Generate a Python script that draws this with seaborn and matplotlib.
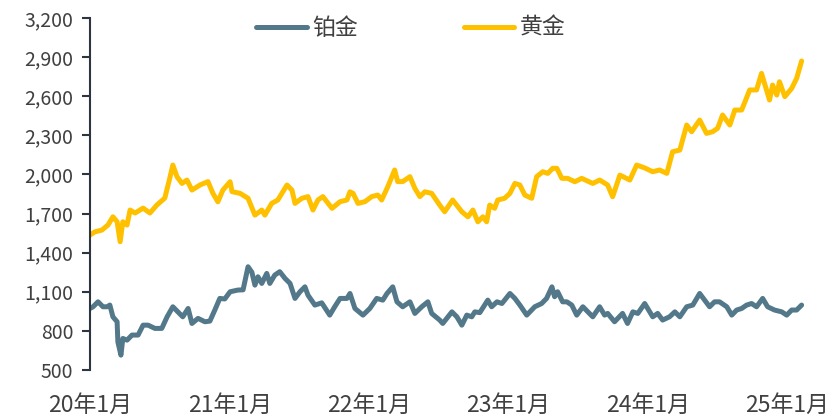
import matplotlib
matplotlib.use("Agg")
import matplotlib.pyplot as plt
import seaborn as sns
import pandas as pd

# 铂金 (platinum) readings, USD/oz
plat_dates = [
    "2020-01-01", "2020-01-09", "2020-01-22", "2020-02-04", "2020-02-15", "2020-02-22",
    "2020-03-01", "2020-03-12", "2020-03-14", "2020-03-22", "2020-03-27", "2020-04-07",
    "2020-04-20", "2020-05-06", "2020-05-19", "2020-06-01", "2020-06-19", "2020-07-07",
    "2020-07-21", "2020-08-05", "2020-08-18", "2020-08-31", "2020-09-14", "2020-09-24",
    "2020-10-10", "2020-10-28", "2020-11-10", "2020-11-23", "2020-12-06", "2020-12-19",
    "2021-01-02", "2021-01-22", "2021-02-05", "2021-02-18", "2021-02-28", "2021-03-08",
    "2021-03-16", "2021-03-26", "2021-04-08", "2021-04-16", "2021-04-29", "2021-05-12",
    "2021-05-26", "2021-06-08", "2021-06-21", "2021-07-04", "2021-07-17", "2021-07-25",
    "2021-08-12", "2021-08-30", "2021-09-20", "2021-10-03", "2021-10-17", "2021-11-04",
    "2021-11-12", "2021-11-25", "2021-12-16", "2022-01-03", "2022-01-21", "2022-02-06",
    "2022-02-17", "2022-03-04", "2022-03-15", "2022-03-30", "2022-04-18", "2022-05-01",
    "2022-05-19", "2022-06-04", "2022-06-14", "2022-07-05", "2022-07-13", "2022-08-06",
    "2022-08-19", "2022-09-01", "2022-09-14", "2022-09-27", "2022-10-05", "2022-10-18",
    "2022-11-08", "2022-11-18", "2022-12-02", "2022-12-15", "2023-01-05", "2023-01-18",
    "2023-01-31", "2023-02-18", "2023-03-11", "2023-03-29", "2023-04-11", "2023-04-25",
    "2023-05-02", "2023-05-10", "2023-05-23", "2023-06-03", "2023-06-16", "2023-06-29",
    "2023-07-15", "2023-07-28", "2023-08-10", "2023-08-28", "2023-09-10", "2023-09-18",
    "2023-10-06", "2023-10-27", "2023-11-09", "2023-11-23", "2023-12-06", "2023-12-24",
    "2024-01-14", "2024-01-27", "2024-02-09", "2024-02-27", "2024-03-12", "2024-03-25",
    "2024-04-12", "2024-04-28", "2024-05-16", "2024-05-29", "2024-06-11", "2024-06-24",
    "2024-07-07", "2024-07-26", "2024-08-08", "2024-08-21", "2024-09-03", "2024-09-16",
    "2024-09-29", "2024-10-12", "2024-10-28", "2024-11-10", "2024-11-28", "2024-12-17",
    "2024-12-30", "2025-01-12", "2025-01-25", "2025-02-07",
]
plat_price = [
    972, 985, 1023, 985, 985, 998,
    908, 870, 716, 614, 742, 729,
    768, 768, 844, 844, 819, 819,
    908, 985, 946, 908, 972, 857,
    896, 870, 875, 960, 1049, 1045,
    1100, 1113, 1115, 1292, 1250, 1151,
    1215, 1164, 1241, 1164, 1228, 1254,
    1202, 1164, 1049, 1100, 1138, 1074,
    998, 1015, 921, 985, 1049, 1049,
    1087, 972, 921, 972, 1049, 1036,
    1087, 1138, 1023, 985, 1023, 934,
    985, 1023, 934, 883, 857, 946,
    908, 844, 921, 908, 946, 940,
    1036, 985, 1023, 1010, 1087, 1049,
    998, 921, 985, 1010, 1049, 1138,
    1062, 1100, 1023, 1023, 998, 921,
    985, 946, 908, 985, 921, 934,
    870, 934, 857, 946, 934, 1010,
    908, 934, 883, 908, 946, 908,
    985, 998, 1087, 1036, 985, 1023,
    1023, 985, 921, 960, 972, 998,
    1010, 985, 1049, 985, 960, 946,
    921, 960, 960, 998,
]

# 黄金 (gold) readings, USD/oz
gold_dates = [
    "2020-01-01", "2020-01-14", "2020-02-01", "2020-02-17", "2020-03-01", "2020-03-12",
    "2020-03-20", "2020-03-27", "2020-04-07", "2020-04-15", "2020-04-28", "2020-05-19",
    "2020-06-06", "2020-06-24", "2020-07-15", "2020-07-28", "2020-08-05", "2020-08-16",
    "2020-08-29", "2020-09-11", "2020-09-24", "2020-10-15", "2020-11-05", "2020-11-18",
    "2020-12-01", "2020-12-14", "2021-01-02", "2021-01-07", "2021-01-28", "2021-02-18",
    "2021-03-08", "2021-03-26", "2021-04-03", "2021-04-21", "2021-05-07", "2021-05-31",
    "2021-06-13", "2021-06-21", "2021-07-09", "2021-07-25", "2021-08-07", "2021-08-20",
    "2021-09-02", "2021-09-26", "2021-10-17", "2021-11-04", "2021-11-12", "2021-11-20",
    "2021-12-03", "2021-12-21", "2022-01-08", "2022-01-24", "2022-02-03", "2022-02-19",
    "2022-03-09", "2022-03-17", "2022-03-30", "2022-04-18", "2022-05-01", "2022-05-14",
    "2022-05-27", "2022-06-14", "2022-07-05", "2022-07-18", "2022-08-08", "2022-09-01",
    "2022-09-17", "2022-09-30", "2022-10-13", "2022-10-26", "2022-11-05", "2022-11-13",
    "2022-11-26", "2022-12-04", "2022-12-22", "2023-01-05", "2023-01-18", "2023-01-31",
    "2023-02-13", "2023-03-03", "2023-03-16", "2023-04-01", "2023-04-14", "2023-04-27",
    "2023-05-08", "2023-05-21", "2023-06-05", "2023-06-24", "2023-07-12", "2023-08-10",
    "2023-08-28", "2023-09-18", "2023-10-01", "2023-10-20", "2023-11-15", "2023-12-03",
    "2023-12-24", "2024-01-14", "2024-02-01", "2024-02-20", "2024-03-06", "2024-03-25",
    "2024-04-12", "2024-04-25", "2024-05-16", "2024-06-03", "2024-06-19", "2024-07-02",
    "2024-07-15", "2024-08-03", "2024-08-16", "2024-09-03", "2024-09-24", "2024-10-12",
    "2024-10-25", "2024-11-15", "2024-11-23", "2024-12-04", "2024-12-11", "2024-12-25",
    "2025-01-12", "2025-01-25", "2025-02-07",
]
gold_price = [
    1535, 1560, 1573, 1612, 1675, 1637,
    1484, 1637, 1612, 1727, 1704, 1742,
    1704, 1765, 1819, 1972, 2072, 1982,
    1931, 1957, 1880, 1919, 1945, 1855,
    1790, 1880, 1944, 1868, 1855, 1817,
    1688, 1727, 1688, 1778, 1804, 1919,
    1880, 1778, 1817, 1830, 1727, 1804,
    1830, 1740, 1791, 1804, 1867, 1855,
    1778, 1791, 1830, 1842, 1804, 1906,
    2034, 1945, 1945, 1983, 1893, 1830,
    1867, 1855, 1765, 1714, 1804, 1714,
    1675, 1727, 1637, 1675, 1637, 1765,
    1740, 1804, 1817, 1855, 1931, 1919,
    1842, 1817, 1983, 2021, 2008, 2047,
    2047, 1970, 1970, 1944, 1970, 1931,
    1957, 1919, 1829, 1995, 1957, 2072,
    2050, 2021, 2034, 2008, 2174, 2187,
    2379, 2328, 2417, 2315, 2328, 2354,
    2456, 2379, 2494, 2494, 2648, 2648,
    2775, 2571, 2686, 2609, 2711, 2597,
    2660, 2737, 2870,
]

series_names = ["铂金", "黄金"]
series_colors = ["#53788A", "#FFC000"]
year_ticks = ["2020-01-01", "2021-01-01", "2022-01-01", "2023-01-01", "2024-01-01", "2025-01-01"]
year_labels = ["20年1月", "21年1月", "22年1月", "23年1月", "24年1月", "25年1月"]
y_ticks = list(range(500, 3201, 300))

df = pd.concat([
    pd.DataFrame({"date": pd.to_datetime(plat_dates), "price": plat_price, "metal": series_names[0]}),
    pd.DataFrame({"date": pd.to_datetime(gold_dates), "price": gold_price, "metal": series_names[1]}),
], ignore_index=True)

sns.set_theme(style="white")
plt.rcParams["font.family"] = ["Noto Sans CJK SC", "DejaVu Sans"]

text_col = "#404040"
fig = plt.figure(figsize=(8.3, 4.2), dpi=100)
ax = fig.add_axes([90 / 830, 50 / 420, 720 / 830, 352 / 420])

sns.lineplot(data=df, x="date", y="price", hue="metal", hue_order=series_names,
             palette=dict(zip(series_names, series_colors)), estimator=None, sort=False,
             linewidth=3.6, ax=ax)
for ln in ax.lines:
    ln.set_solid_capstyle("round")
    ln.set_solid_joinstyle("round")

ax.set_xlim(pd.Timestamp("2020-01-01"), pd.Timestamp("2025-03-01"))
ax.set_ylim(500, 3200)
ax.set_yticks(y_ticks)
ax.set_yticklabels([f"{v:,}" for v in y_ticks], fontsize=14, color=text_col)
ax.set_xticks(pd.to_datetime(year_ticks))
ax.set_xticklabels(year_labels, fontsize=16.5, color=text_col)
ax.set_xlabel("")
ax.set_ylabel("")

sns.despine(ax=ax, top=True, right=True, bottom=True)
ax.spines["left"].set_color("#2E3440")
ax.spines["left"].set_linewidth(1.5)
ax.tick_params(axis="y", length=6, width=1.5, color="#2E3440", pad=6, left=True)
ax.tick_params(axis="x", length=0, pad=17)

handles, labels = ax.get_legend_handles_labels()
ax.get_legend().remove()
fig.legend(handles, labels, loc="center", bbox_to_anchor=(0.495, 0.933), ncol=2,
           frameon=False, fontsize=16.5, handlelength=2.2, handletextpad=0.25,
           columnspacing=4.6, labelcolor=text_col)

fig.savefig("out.png", dpi=100)
